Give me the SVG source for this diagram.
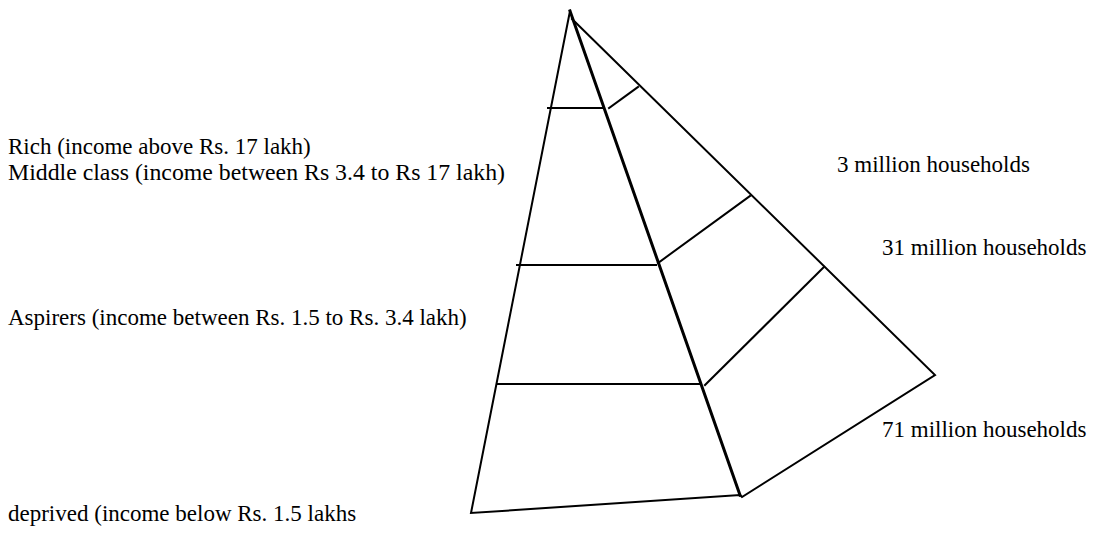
<svg xmlns="http://www.w3.org/2000/svg" width="1096" height="536" viewBox="0 0 1096 536">
<style>
.l{stroke:#000;stroke-width:2;fill:none;stroke-linecap:square}
.t{font-family:"Liberation Serif",serif;font-size:23px;fill:#000}
</style>
<rect width="1096" height="536" fill="#fff"/>
<g id="shape">
<polyline class="l" points="570,11 471,513 740,495 742,497 935,375 572,19"/>
<line class="l" x1="570" y1="11" x2="740" y2="495" style="stroke-width:3"/>
<line class="l" x1="548" y1="108" x2="604" y2="108"/>
<line class="l" x1="517" y1="265" x2="656" y2="265"/>
<line class="l" x1="497" y1="384" x2="701" y2="384"/>
<line class="l" x1="609" y1="108" x2="638" y2="87"/>
<line class="l" x1="658" y1="263" x2="750" y2="196"/>
<line class="l" x1="705" y1="385" x2="824" y2="267"/>
</g>
<g id="labels">
<text class="t" x="8" y="154">Rich (income above Rs. 17 lakh)</text>
<text class="t" x="8" y="180" textLength="497" lengthAdjust="spacingAndGlyphs">Middle class (income between Rs 3.4 to Rs 17 lakh)</text>
<text class="t" x="8" y="325">Aspirers (income between Rs. 1.5 to Rs. 3.4 lakh)</text>
<text class="t" x="8" y="521">deprived (income below Rs. 1.5 lakhs</text>
<text class="t" x="837" y="172">3 million households</text>
<text class="t" x="882" y="255">31 million households</text>
<text class="t" x="882" y="437">71 million households</text>
</g>
</svg>
